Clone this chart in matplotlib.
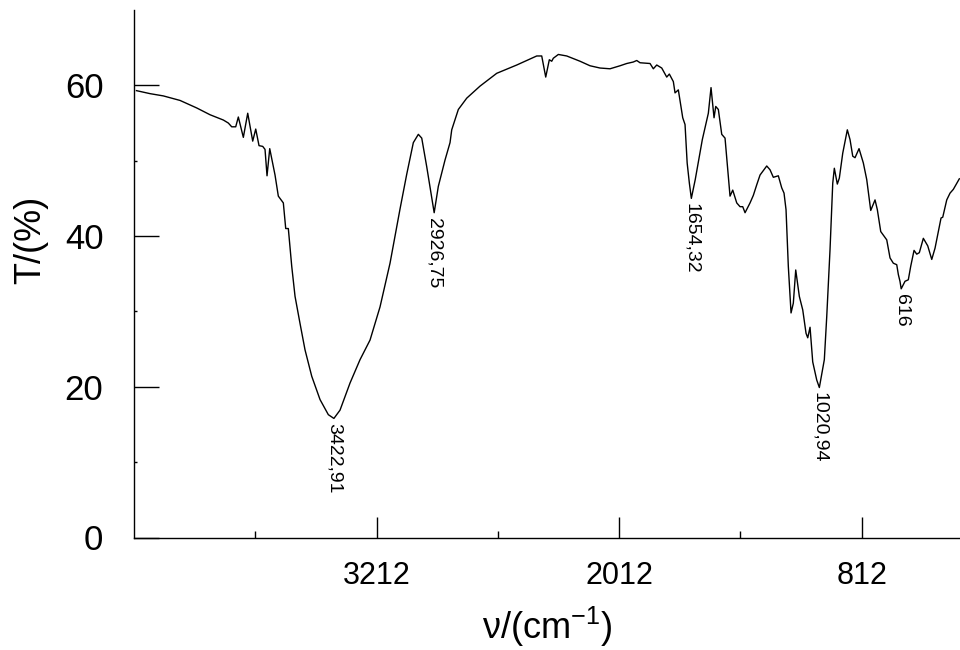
import numpy as np
import matplotlib
matplotlib.use("Agg")
import matplotlib.pyplot as plt
from matplotlib.ticker import FixedLocator, NullFormatter

plt.rcParams['font.family'] = ['Liberation Sans', 'DejaVu Sans']
plt.rcParams['mathtext.default'] = 'regular'

# FTIR spectrum: wavenumber (cm-1) and transmittance (%)
wavenumber = [
    4400, 4332.7, 4266.9, 4184.3, 4101.6, 4035.8, 3970.0, 3945.3, 3928.5, 3908.7,
    3895.8, 3871.0, 3849.3, 3824.6, 3809.7, 3793.4, 3775.1, 3763.7, 3753.8, 3740.4,
    3714.2, 3697.9, 3673.1, 3661.3, 3648.4, 3631.6, 3615.2, 3590.5, 3565.8, 3532.6,
    3491.5, 3450.5, 3422.91, 3392.6, 3343.1, 3293.6, 3244.1, 3194.7, 3145.2, 3095.7,
    3062.6, 3029.9, 3005.1, 2988.3, 2963.6, 2926.75, 2906.2, 2873.0, 2848.3, 2839.9,
    2807.2, 2765.7, 2699.9, 2617.2, 2518.2, 2419.3, 2394.6, 2374.8, 2357.0, 2345.1,
    2337.2, 2312.4, 2270.9, 2205.1, 2155.6, 2106.1, 2056.6, 2007.1, 1974.0, 1941.3,
    1924.5, 1908.2, 1858.7, 1842.4, 1825.5, 1800.8, 1776.1, 1763.2, 1743.4, 1735.0,
    1718.7, 1696.9, 1685.5, 1675.0, 1664.0, 1654.32, 1635.0, 1600.0, 1570.2, 1556.9,
    1542.0, 1533.6, 1520.7, 1503.9, 1487.6, 1462.9, 1449.5, 1429.7, 1413.4, 1400.0,
    1388.6, 1363.9, 1347.6, 1330.8, 1314.4, 1281.3, 1265.0, 1248.6, 1223.9, 1207.1,
    1195.7, 1185.8, 1174.5, 1161.0, 1149.7, 1137.8, 1120.0, 1103.1, 1086.8, 1078.4,
    1067.0, 1053.7, 1033.9, 1020.94, 996.3, 984.4, 968.1, 954.7, 946.8, 932.0,
    922.0, 905.2, 882.5, 869.1, 855.7, 844.4, 824.6, 803.3, 786.5, 766.7,
    745.4, 734.0, 717.2, 700.9, 687.5, 671.2, 654.9, 638.0, 630.1, 622.0,
    616.0, 597.0, 580.7, 568.8, 552.4, 539.1, 526.2, 506.4, 484.6, 464.8,
    448.5, 418.8, 410.4, 390.6, 374.3, 358.0, 328.3,
]
transmittance = [
    59.3, 58.9, 58.6, 58.0, 57.0, 56.1, 55.4, 55.0, 54.5, 54.5,
    55.8, 53.1, 56.3, 52.6, 54.2, 52.0, 51.9, 51.5, 48.0, 51.6,
    48.1, 45.3, 44.4, 41.0, 41.0, 36.0, 32.0, 28.4, 24.9, 21.4,
    18.3, 16.3, 15.8, 16.9, 20.5, 23.6, 26.2, 30.6, 36.4, 43.6,
    48.2, 52.4, 53.5, 53.0, 49.2, 43.1, 46.6, 50.1, 52.4, 54.1,
    56.8, 58.3, 59.9, 61.6, 62.7, 63.9, 63.9, 61.1, 63.4, 63.2,
    63.6, 64.1, 63.9, 63.2, 62.6, 62.3, 62.2, 62.6, 62.9, 63.1,
    63.3, 63.0, 62.9, 62.2, 62.7, 62.3, 61.1, 61.5, 60.5, 59.0,
    59.4, 55.7, 54.8, 49.7, 47.0, 45.0, 47.5, 52.8, 56.3, 59.7,
    55.7, 57.2, 56.8, 53.5, 53.0, 45.3, 46.1, 44.4, 43.9, 43.9,
    43.1, 44.4, 45.4, 46.8, 48.1, 49.3, 48.8, 47.8, 48.0, 46.4,
    45.7, 43.5, 36.0, 29.8, 31.1, 35.5, 32.0, 30.2, 27.1, 26.5,
    27.9, 23.3, 20.9, 19.9, 23.6, 29.3, 38.2, 47.0, 49.0, 46.9,
    47.7, 51.0, 54.1, 52.8, 50.6, 50.4, 51.6, 49.7, 47.5, 43.4,
    44.8, 43.5, 40.6, 40.0, 39.5, 37.1, 36.4, 36.2, 34.9, 34.0,
    33.0, 34.0, 34.2, 36.0, 38.1, 37.6, 37.8, 39.7, 38.7, 36.9,
    38.4, 42.4, 42.5, 44.8, 45.7, 46.2, 47.6,
]

# Labelled absorption bands
peak_positions = [3422.91, 2926.75, 1654.32, 1020.94, 616]
peak_labels = ['3422,91', '2926,75', '1654,32', '1020,94', '616']

x_major = [3212, 2012, 812]
x_minor = [3812, 2612, 1412]
y_major = [0, 20, 40, 60]
y_minor = [10, 30, 50]

fig = plt.figure(figsize=(9.6, 6.5), dpi=100)
ax = fig.add_axes([134 / 960, 112.5 / 650, 826 / 960, 527.5 / 650])

ax.plot(wavenumber, transmittance, color='black', lw=1.0)

ax.set_xlim(4412, 325)
ax.set_ylim(0, 70)

ax.spines['top'].set_visible(False)
ax.spines['right'].set_visible(False)
for s in ('left', 'bottom'):
    ax.spines[s].set_linewidth(1.0)

ax.xaxis.set_major_locator(FixedLocator(x_major))
ax.xaxis.set_minor_locator(FixedLocator(x_minor))
ax.yaxis.set_major_locator(FixedLocator(y_major))
ax.yaxis.set_minor_locator(FixedLocator(y_minor))
ax.xaxis.set_minor_formatter(NullFormatter())
ax.yaxis.set_minor_formatter(NullFormatter())

ax.tick_params(axis='x', which='major', direction='in', length=15, width=1.0,
               pad=17, labelsize=22)
ax.tick_params(axis='x', which='minor', direction='in', length=5, width=1.0)
ax.tick_params(axis='y', which='major', direction='in', length=18, width=1.0,
               pad=22, labelsize=25)
ax.tick_params(axis='y', which='minor', direction='in', length=2, width=1.0)

ax.set_xlabel(r'ν/(cm$^{-1}$)', fontsize=26, labelpad=10)
ax.set_ylabel('T/(%)', fontsize=26)
ax.yaxis.set_label_coords(-0.104, 0.564)

for pos, text in zip(peak_positions, peak_labels):
    val = np.interp(pos, wavenumber[::-1], transmittance[::-1])
    ax.annotate(text, xy=(pos, val), xytext=(0, -3.5), textcoords='offset points',
                rotation=270, ha='center', va='top', fontsize=14)

fig.savefig('out.png', dpi=100)
